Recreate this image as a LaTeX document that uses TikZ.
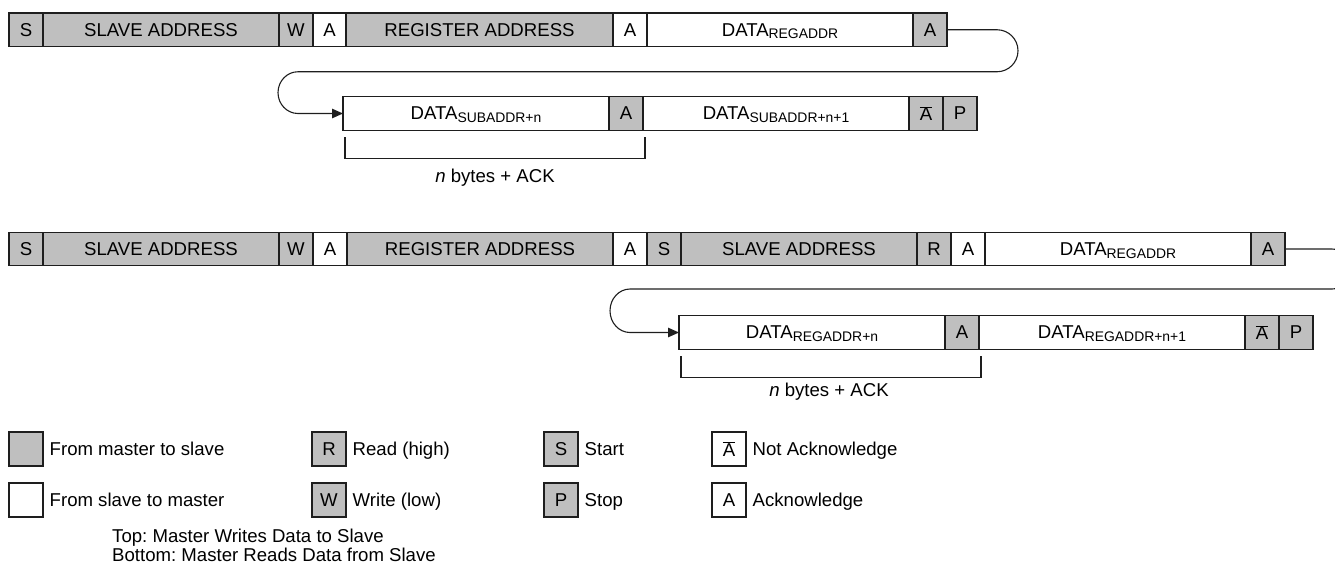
\documentclass[tikz,border=0pt]{standalone}
\usepackage{fontspec}
\setmainfont{Liberation Sans}
\usetikzlibrary{arrows.meta,calc}
\definecolor{boxgray}{RGB}{191,191,191}
\definecolor{linecol}{RGB}{30,30,30}
\newcommand{\subtxt}[1]{\raisebox{-2.6pt}[0pt][0pt]{\fontsize{13.9pt}{14pt}\selectfont #1}}
\newcommand{\nackA}{$\overline{\mbox{A}}$}
\frenchspacing
\begin{document}
\begin{tikzpicture}[x=1pt,y=1pt,
  font=\fontsize{18.6pt}{22pt}\selectfont,
  cell/.style={draw=linecol, line width=1.2pt, minimum height=33.5pt, inner sep=0pt, outer sep=0pt, anchor=west, text depth=0pt},
  g/.style={cell, fill=boxgray},
  w/.style={cell, fill=white},
  conn/.style={draw=linecol, line width=1.1pt},
  tip/.style={-{Triangle[length=11pt,width=9.5pt]}},
  lbl/.style={anchor=base west, inner sep=0pt, xshift=6.5pt, yshift=-6.6pt},
  lg/.style={cell, minimum width=34pt, minimum height=34pt}]
\useasboundingbox (0,0) rectangle (1335,-568);

% Row 1: master writes
\node[g, minimum width=34pt]  (a1) at (9,-29.75) {S};
\node[g, minimum width=236pt] (a2) at (a1.east) {SLAVE ADDRESS};
\node[g, minimum width=34pt]  (a3) at (a2.east) {W};
\node[w, minimum width=33pt]  (a4) at (a3.east) {A};
\node[g, minimum width=267pt] (a5) at (a4.east) {REGISTER ADDRESS};
\node[w, minimum width=34pt]  (a6) at (a5.east) {A};
\node[w, minimum width=266pt] (a7) at (a6.east) {DATA\subtxt{REGADDR}};
\node[g, minimum width=34pt]  (a8) at (a7.east) {A};

% Row 2
\node[w, minimum width=266pt] (b1) at (343,-113.5) {DATA\subtxt{SUBADDR+n}};
\node[g, minimum width=34pt]  (b2) at (b1.east) {A};
\node[w, minimum width=266pt] (b3) at (b2.east) {DATA\subtxt{SUBADDR+n+1}};
\node[g, minimum width=34pt]  (b4) at (b3.east) {\nackA};
\node[g, minimum width=34pt]  (b5) at (b4.east) {P};

\coordinate (k1) at (997,-29.75);
\coordinate (k2) at (298,-71.75);
\draw[conn,tip] (a8.east) -- (k1) arc[start angle=90,end angle=-90,radius=21pt]
  -- (k2) arc[start angle=90,end angle=270,x radius=20pt,y radius=20.875pt] -- (b1.west);

\draw[conn] ($(b1.south west)+(2,-7)$) -- ++(0,-21) -| ($(b2.south east)+(2,-7)$);
\node (n1) at (495,-178) {\textit{n} bytes + ACK};

% Row 3: master reads
\node[g, minimum width=34pt]  (c1) at (9,-249) {S};
\node[g, minimum width=236pt] (c2) at (c1.east) {SLAVE ADDRESS};
\node[g, minimum width=34pt]  (c3) at (c2.east) {W};
\node[w, minimum width=34pt]  (c4) at (c3.east) {A};
\node[g, minimum width=266pt] (c5) at (c4.east) {REGISTER ADDRESS};
\node[w, minimum width=34pt]  (c6) at (c5.east) {A};
\node[g, minimum width=34pt]  (c7) at (c6.east) {S};
\node[g, minimum width=236pt] (c8) at (c7.east) {SLAVE ADDRESS};
\node[g, minimum width=34pt]  (c9) at (c8.east) {R};
\node[w, minimum width=34pt]  (c10) at (c9.east) {A};
\node[w, minimum width=266pt] (c11) at (c10.east) {DATA\subtxt{REGADDR}};
\node[g, minimum width=34pt]  (c12) at (c11.east) {A};

% Row 4
\node[w, minimum width=266pt] (d1) at (679,-332.5) {DATA\subtxt{REGADDR+n}};
\node[g, minimum width=34pt]  (d2) at (d1.east) {A};
\node[w, minimum width=266pt] (d3) at (d2.east) {DATA\subtxt{REGADDR+n+1}};
\node[g, minimum width=34pt]  (d4) at (d3.east) {\nackA};
\node[g, minimum width=34pt]  (d5) at (d4.east) {P};

\coordinate (k3) at (1332,-249);
\coordinate (k4) at (630,-289);
\draw[conn,tip] (c12.east) -- (k3) arc[start angle=90,end angle=-90,radius=20pt]
  -- (k4) arc[start angle=90,end angle=270,x radius=20pt,y radius=21.75pt] -- (d1.west);

\draw[conn] ($(d1.south west)+(2,-7)$) -- ++(0,-21) -| ($(d2.south east)+(2,-7)$);
\node (n2) at (829,-392) {\textit{n} bytes + ACK};

% Legend
\node[lg, fill=boxgray] (L1) at (9,-449) {};
\node[lbl] (L1t) at (L1.east) {From master to slave};
\node[lg, fill=white] (L2) at (9,-500) {};
\node[lbl] (L2t) at (L2.east) {From slave to master};
\node[lg, fill=boxgray] (L3) at (312,-449) {R};
\node[lbl] (L3t) at (L3.east) {Read (high)};
\node[lg, fill=boxgray] (L4) at (312,-500) {W};
\node[lbl] (L4t) at (L4.east) {Write (low)};
\node[lg, fill=boxgray] (L5) at (544,-449) {S};
\node[lbl] (L5t) at (L5.east) {Start};
\node[lg, fill=boxgray] (L6) at (544,-500) {P};
\node[lbl] (L6t) at (L6.east) {Stop};
\node[lg, fill=white] (L7) at (712,-449) {\nackA};
\node[lbl] (L7t) at (L7.east) {Not Acknowledge};
\node[lg, fill=white] (L8) at (712,-500) {A};
\node[lbl] (L8t) at (L8.east) {Acknowledge};

\node[anchor=base west, inner sep=0pt] (cap1) at (112,-542) {Top: Master Writes Data to Slave};
\node[anchor=base west, inner sep=0pt] (cap2) at (112,-561) {Bottom: Master Reads Data from Slave};
\end{tikzpicture}
\end{document}
